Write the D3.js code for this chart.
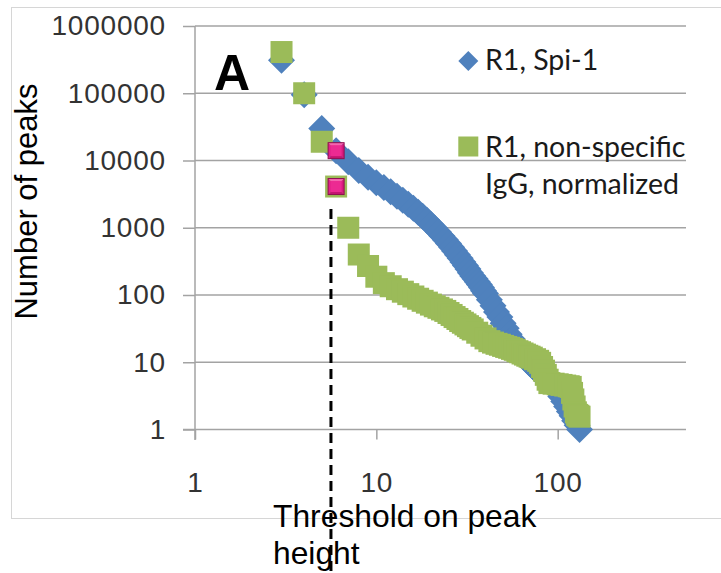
<!DOCTYPE html>
<html><head><meta charset="utf-8">
<script src="https://cdn.jsdelivr.net/npm/d3@7"></script>
<style>html,body{margin:0;padding:0;background:#fff;overflow:hidden}</style>
</head><body>
<svg id="chart" width="721" height="573"></svg>
<script>
const xTicks = [1, 10, 100];
const yTicks = [1, 10, 100, 1000, 10000, 100000, 1000000];
const yTickLabels = ["1", "10", "100", "1000", "10000", "100000", "1000000"];
const seriesNames = ["R1, Spi-1", "R1, non-specific", "IgG, normalized"];
const blueX = [3,4,5,6,7,8,9,10,11,12,13,14,15,16,17,18,19,20,21,22,23,24,25,26,27,28,29,30,31,32,33,34,35,36,37,38,39,40,42,44,46,48,50,52,54,56,58,60,62,64,66,68,70,72,75,78,81,84,87,90,93,96,100,104,108,112,116,120,124,128,132];
const blueY = [310000,95000,30000,14000,9550,7080,5620,4680,3980,3430,2950,2570,2240,1950,1700,1480,1290,1120,980,861,753,661,582,513,452,398,351,309,274,243,215,191,174,158,143,129,116,105,85,69,56,47,38,32,26,22.4,19,16.5,14.5,13,11.7,10.6,9.7,9,8,7.2,6.7,6.1,5.5,5.1,4.7,4.3,3.7,3.1,2.6,2.2,1.85,1.6,1.35,1.16,1];
const greenX = [3,4,5,6,7,8,9,10,11,12,13,14,15,16,17,18,19,20,21,22,23,24,25,26,27,28,29,30,31,32,33,34,36,38,40,42,44,46,48,50,52,54,56,58,60,62,64,66,68,70,72,75,78,80,82,84,86,88,90,95,100,105,110,115,118,120,122,124,126,128,130,132];
const greenY = [410000,100000,19000,4100,1000,400,270,187,150,135,122,112,103,95,88,82,77,72,68,64.5,61,58,54,50.5,47,44,41,38.7,36.5,34.4,32.4,30.7,27.5,24.8,22.6,20.6,19.6,18.8,18.2,17.5,16.9,16.4,15.8,15.3,14.6,14.1,13.5,13,12.5,12.1,11.7,11.1,10.5,9.8,8.5,7.5,6.5,5.5,4.9,4.8,4.7,4.6,4.5,4.4,4.3,3.5,2.8,2.2,1.8,1.65,1.6,1.55];
const highlightX = [6, 6];
const highlightY = [14000, 4100];
const thresholdX = 5.62;
const thresholdTopY = 1900;

const svg = d3.select("#chart");
const x = d3.scaleLog().domain([1, 510]).range([195, 686]);
const y = d3.scaleLog().domain([1, 1000000]).range([429.5, 26]);
const axisFont = "'Liberation Sans', Arial, sans-serif";
const gridColor = "#a3a3a3";

// outer border
svg.append("rect").attr("x", 11.5).attr("y", 7.5).attr("width", 720).attr("height", 511)
  .attr("fill", "none").attr("stroke", "#d6d6d6").attr("stroke-width", 1);

// gridlines
svg.append("g").selectAll("line").data(yTicks.slice(1)).join("line")
  .attr("x1", 195).attr("x2", 686).attr("y1", d => y(d)).attr("y2", d => y(d))
  .attr("stroke", gridColor).attr("stroke-width", 1.5);

// y axis
const yAxis = d3.axisLeft(y).tickValues(yTicks).tickFormat((d, i) => yTickLabels[i]).tickSize(12).tickPadding(17);
const gy = svg.append("g").attr("transform", "translate(195,0)").call(yAxis);
gy.select(".domain").remove();
gy.append("line").attr("x1", 0).attr("x2", 0).attr("y1", 26).attr("y2", 440).attr("stroke", gridColor).attr("stroke-width", 1.5);
gy.selectAll(".tick line").attr("stroke", gridColor).attr("stroke-width", 1.5);
gy.selectAll(".tick text").attr("font-family", axisFont).attr("font-size", 28).attr("letter-spacing", 0.8).attr("fill", "#333");

// x axis
const xAxis = d3.axisBottom(x).tickValues(xTicks).tickFormat(d3.format("d")).tickSize(10).tickPadding(33);
const gx = svg.append("g").attr("transform", "translate(0,429.5)").call(xAxis);
gx.select(".domain").remove();
gx.append("line").attr("x1", 183).attr("x2", 686).attr("y1", 0).attr("y2", 0).attr("stroke", gridColor).attr("stroke-width", 1.5);
gx.selectAll(".tick line").attr("stroke", gridColor).attr("stroke-width", 1.5);
gx.selectAll(".tick text").attr("font-family", axisFont).attr("font-size", 28).attr("letter-spacing", 0.8).attr("fill", "#333");

// blue diamonds
const dr = 13.5;
svg.append("g").selectAll("path").data(blueX.map((v, i) => [v, blueY[i]])).join("path")
  .attr("d", d => { const cx = x(d[0]), cy = y(d[1]); return `M${cx},${cy-dr}L${cx+dr},${cy}L${cx},${cy+dr}L${cx-dr},${cy}Z`; })
  .attr("fill", "#4F81BD");

// green squares
const gs = 22;
svg.append("g").selectAll("rect").data(greenX.map((v, i) => [v, greenY[i]])).join("rect")
  .attr("x", d => x(d[0]) - gs / 2).attr("y", d => y(d[1]) - gs / 2)
  .attr("width", gs).attr("height", gs).attr("fill", "#9BBB59");

// pink highlight markers (bevelled)
const ph = 8;
const hl = svg.append("g");
highlightX.forEach((hx, i) => {
  const cx = x(hx), cy = y(highlightY[i]);
  const g = hl.append("g");
  const tri = (pts, c) => g.append("path").attr("d", "M" + pts.map(p => p.join(",")).join("L") + "Z").attr("fill", c);
  tri([[cx-ph,cy-ph],[cx+ph,cy-ph],[cx,cy]], "#F566B0");
  tri([[cx-ph,cy-ph],[cx-ph,cy+ph],[cx,cy]], "#E3208A");
  tri([[cx+ph,cy-ph],[cx+ph,cy+ph],[cx,cy]], "#D81A7E");
  tri([[cx-ph,cy+ph],[cx+ph,cy+ph],[cx,cy]], "#C21470");
  g.append("rect").attr("x", cx-ph+2.5).attr("y", cy-ph+2.5).attr("width", 2*ph-5).attr("height", 2*ph-5).attr("fill", "#EC2A92");
  g.append("rect").attr("x", cx-ph).attr("y", cy-ph).attr("width", 2*ph).attr("height", 2*ph)
    .attr("fill", "none").attr("stroke", "#8E0E4E").attr("stroke-width", 1);
});

// threshold dashed line
svg.append("line").attr("x1", x(thresholdX)).attr("x2", x(thresholdX)).attr("y1", y(thresholdTopY)).attr("y2", 573)
  .attr("stroke", "#000").attr("stroke-width", 3).attr("stroke-dasharray", "10,6");

// "A"
svg.append("text").attr("x", 214).attr("y", 90).text("A")
  .attr("font-family", axisFont).attr("font-weight", "bold").attr("font-size", 50).attr("fill", "#000");

// axis titles
svg.append("text").attr("transform", "translate(37,201.5) rotate(-90)").attr("text-anchor", "middle")
  .attr("font-family", axisFont).attr("font-size", 31).attr("fill", "#000").text("Number of peaks");
const xt = svg.append("text").attr("font-family", axisFont).attr("font-size", 31.8).attr("fill", "#000");
xt.append("tspan").attr("x", 273).attr("y", 527).text("Threshold on peak");
xt.append("tspan").attr("x", 273).attr("y", 564).text("height");

// legend
const lf = "Lato, 'Open Sans', sans-serif";
const lx = 468.3;
svg.append("path").attr("d", `M${lx},51L${lx+10},61L${lx},71L${lx-10},61Z`).attr("fill", "#4F81BD");
svg.append("rect").attr("x", lx - 10).attr("y", 136.5).attr("width", 20).attr("height", 20).attr("fill", "#9BBB59");
const lt = (tx, ty, s) => svg.append("text").attr("x", tx).attr("y", ty).text(s)
  .attr("font-family", lf).attr("font-size", 28.5).attr("fill", "#1a1a1a");
lt(485, 70, seriesNames[0]);
lt(485, 157, seriesNames[1]);
lt(485, 193.5, seriesNames[2]);
</script>
</body></html>
